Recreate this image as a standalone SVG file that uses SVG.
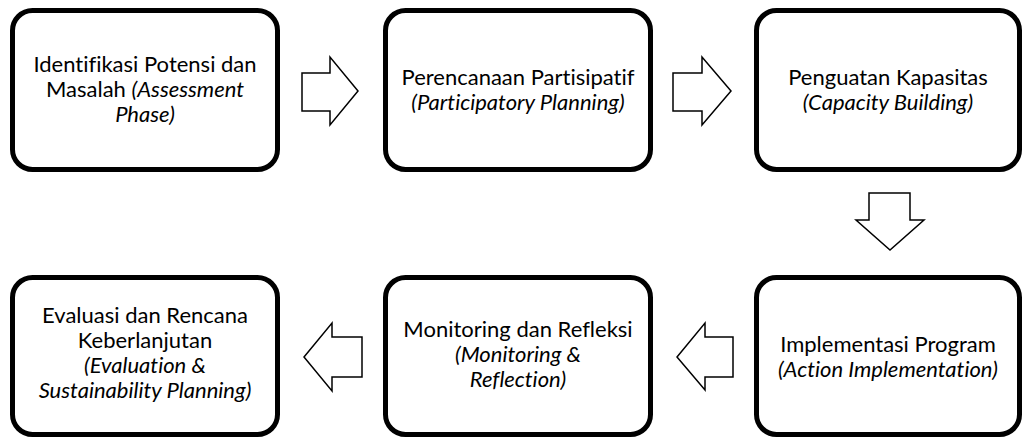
<svg xmlns="http://www.w3.org/2000/svg" width="1024" height="437" viewBox="0 0 1024 437">
<style>
.box{fill:#fff;stroke:#000;stroke-width:5}
.arr{fill:#fff;stroke:#000;stroke-width:1.5;stroke-linejoin:miter}
text{font-family:Lato,"Open Sans",sans-serif;font-size:22px;fill:#000;text-anchor:middle;font-variant-ligatures:none;font-feature-settings:"liga" 0}
.i{font-style:italic}
</style>
<rect width="1024" height="437" fill="#fff"/>
<g id="connectors">
<polygon class="arr" points="302,73 330,73 330,57 358,91 330,125 330,111 302,111"/>
<polygon class="arr" points="673,73 702,73 702,57 731,91 702,125 702,111 673,111"/>
<polygon class="arr" points="869,193 910,193 910,220 924,220 890,250 856,220 869,220"/>
<polygon class="arr" points="733,337 705,337 705,323 677,357 705,390 705,377 733,377"/>
<polygon class="arr" points="362,337 332,337 332,323 304,357 332,391 332,377 362,377"/>
</g>
<g id="n1">
<rect class="box" x="12.5" y="10.5" width="265" height="159" rx="20"/>
<text x="145" y="72">Identifikasi Potensi dan</text>
<text x="145" y="97">Masalah <tspan class="i">(Assessment</tspan></text>
<text x="145" y="122" class="i">Phase)</text>
</g>
<g id="n2">
<rect class="box" x="385.5" y="10.5" width="265" height="159" rx="20"/>
<text x="518" y="85">Perencanaan Partisipatif</text>
<text x="518" y="110" class="i">(Participatory Planning)</text>
</g>
<g id="n3">
<rect class="box" x="756.5" y="10.5" width="263" height="159" rx="20"/>
<text x="888" y="85">Penguatan Kapasitas</text>
<text x="888" y="110" class="i">(Capacity Building)</text>
</g>
<g id="n4">
<rect class="box" x="756.5" y="277.5" width="263" height="157" rx="20"/>
<text x="888" y="352">Implementasi Program</text>
<text x="888" y="377" class="i">(Action Implementation)</text>
</g>
<g id="n5">
<rect class="box" x="385.5" y="277.5" width="265" height="157" rx="20"/>
<text x="518" y="337">Monitoring dan Refleksi</text>
<text x="518" y="362" class="i">(Monitoring &amp;</text>
<text x="518" y="387" class="i">Reflection)</text>
</g>
<g id="n6">
<rect class="box" x="12.5" y="277.5" width="265" height="157" rx="20"/>
<text x="145" y="323">Evaluasi dan Rencana</text>
<text x="145" y="348">Keberlanjutan</text>
<text x="145" y="373" class="i">(Evaluation &amp;</text>
<text x="145" y="398" class="i">Sustainability Planning)</text>
</g>
</svg>
